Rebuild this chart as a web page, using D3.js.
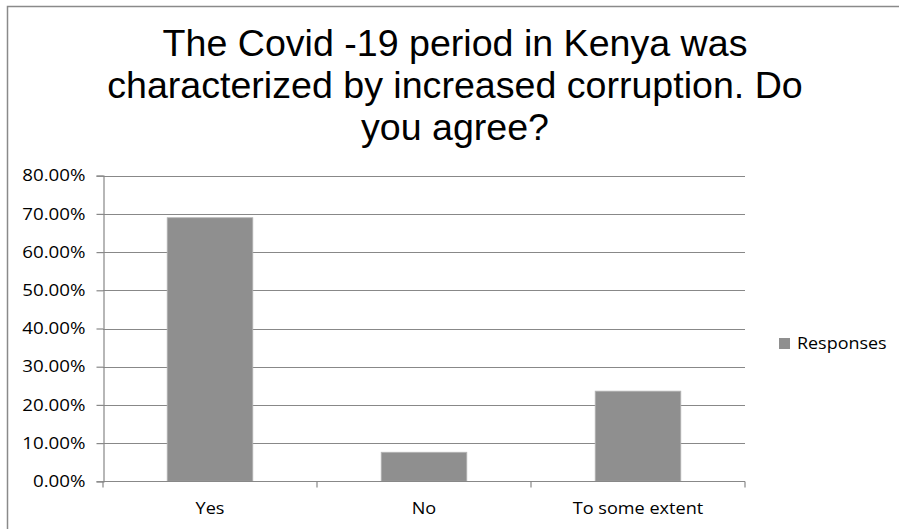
<!DOCTYPE html>
<html>
<head>
<meta charset="utf-8">
<script src="https://cdn.jsdelivr.net/npm/d3@7"></script>
<style>
  html, body { margin: 0; padding: 0; background: #fff; }
  svg { display: block; }
</style>
</head>
<body>
<svg id="chart" width="899" height="529"></svg>
<script>
// Survey responses
const categories = ["Yes", "No", "To some extent"];
const responses = [0.69, 0.076, 0.236];
const seriesName = "Responses";
const titleLines = [
  "The Covid -19 period in Kenya was",
  "characterized by increased corruption. Do",
  "you agree?"
];
const yTicks = [0, 0.1, 0.2, 0.3, 0.4, 0.5, 0.6, 0.7, 0.8];

const svg = d3.select("#chart");
const W = 899, H = 529;
const plot = { left: 103, right: 745, top: 175.7, bottom: 481.3 };

// widen label glyphs a little (spacingAndGlyphs keeps letter spacing natural)
function widen(sel, factor) {
  sel.each(function () {
    const n = this.getComputedTextLength();
    d3.select(this).attr("textLength", n * factor).attr("lengthAdjust", "spacingAndGlyphs");
  });
}

// outer frame
svg.append("path")
  .attr("d", `M7.5,${H} V6.5 H${W}`)
  .attr("fill", "none")
  .attr("stroke", "#8a8a8a")
  .attr("stroke-width", 1.5);

// title
const title = svg.append("text")
  .attr("text-anchor", "middle")
  .attr("font-family", "'Liberation Sans', Arial, sans-serif")
  .attr("font-size", 37.6)
  .attr("fill", "#000");
titleLines.forEach((line, i) => {
  title.append("tspan").attr("x", 455).attr("y", 56 + i * 42).text(line);
});

const x = d3.scaleBand()
  .domain(categories)
  .range([plot.left, plot.right])
  .paddingInner(0.6)
  .paddingOuter(0.3);

const y = d3.scaleLinear().domain([0, 0.8]).range([plot.bottom, plot.top]);

// gridlines
svg.append("g")
  .selectAll("line")
  .data(yTicks)
  .join("line")
  .attr("x1", plot.left).attr("x2", plot.right)
  .attr("y1", d => Math.round(y(d)) + 0.5).attr("y2", d => Math.round(y(d)) + 0.5)
  .attr("stroke", "#888").attr("stroke-width", 1.2);

// bars
svg.append("g")
  .selectAll("rect")
  .data(categories)
  .join("rect")
  .attr("x", d => x(d))
  .attr("width", x.bandwidth())
  .attr("y", (d, i) => y(responses[i]))
  .attr("height", (d, i) => y(0) - y(responses[i]))
  .attr("fill", "#8f8f8f")
  .attr("stroke", "#b5b5b5")
  .attr("stroke-width", 0.8);

const fontLabel = "'Open Sans', Calibri, sans-serif";

// y axis
const yAxis = svg.append("g")
  .attr("transform", `translate(${plot.left + 0.5},0)`)
  .call(d3.axisLeft(y).tickValues(yTicks).tickFormat(d3.format(".2%")).tickSize(7).tickPadding(11));
yAxis.select(".domain").attr("stroke", "#888").attr("stroke-width", 1.2);
yAxis.selectAll(".tick line").attr("stroke", "#888").attr("stroke-width", 1.2);
yAxis.selectAll(".tick text")
  .attr("font-family", fontLabel).attr("font-size", 16).attr("fill", "#000")
  .call(widen, 1.17);

// x axis with category dividers
const xAxisG = svg.append("g")
  .attr("transform", `translate(0,${Math.round(plot.bottom) + 0.5})`);
xAxisG.append("line")
  .attr("x1", plot.left).attr("x2", plot.right)
  .attr("stroke", "#888").attr("stroke-width", 1.2);
const dividers = [plot.left].concat(categories.map(c => x(c) + x.bandwidth() / 2 + x.step() / 2));
xAxisG.selectAll("line.div")
  .data(dividers)
  .join("line")
  .attr("class", "div")
  .attr("x1", d => d).attr("x2", d => d)
  .attr("y1", 0).attr("y2", 6)
  .attr("stroke", "#888").attr("stroke-width", 1.2);
xAxisG.selectAll("text")
  .data(categories)
  .join("text")
  .attr("x", d => x(d) + x.bandwidth() / 2)
  .attr("y", 32)
  .attr("text-anchor", "middle")
  .attr("font-family", fontLabel).attr("font-size", 16).attr("fill", "#000")
  .text(d => d)
  .call(widen, 1.13);

// legend
const legend = svg.append("g").attr("transform", "translate(779,338)");
legend.append("rect").attr("width", 11).attr("height", 11).attr("fill", "#8f8f8f");
legend.append("text")
  .attr("x", 18).attr("y", 10.5)
  .attr("font-family", fontLabel).attr("font-size", 16).attr("fill", "#000")
  .text(seriesName)
  .call(widen, 1.12);
</script>
</body>
</html>
